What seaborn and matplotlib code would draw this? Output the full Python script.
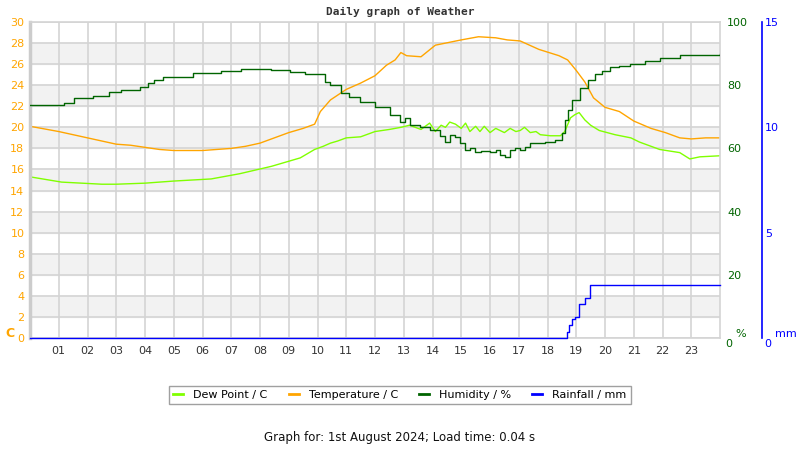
import matplotlib
matplotlib.use("Agg")
import matplotlib.pyplot as plt
import seaborn as sns

# hours of the day and readings taken off the graph
temp_hours = [0, 1, 2, 2.5, 3, 3.5, 4, 4.5, 5, 6, 7, 7.5, 8, 8.5, 9, 9.5, 9.9, 10.1, 10.45, 11,
              11.5, 12, 12.4, 12.7, 12.9, 13.1, 13.6, 14.1, 15, 15.6, 16.2, 16.6, 17.05, 17.7, 18.4, 18.7,
              19, 19.3, 19.6, 20, 20.5, 21, 21.6, 22.1, 22.6, 23, 23.5, 24]
temperature = [20.1, 19.6, 19.0, 18.7, 18.4, 18.3, 18.1, 17.9, 17.8, 17.8, 18.0, 18.2, 18.5, 19.0, 19.5,
               19.9, 20.3, 21.5, 22.6, 23.6, 24.2, 24.9, 25.9, 26.4, 27.1, 26.8, 26.7, 27.8, 28.3, 28.6,
               28.5, 28.3, 28.2, 27.4, 26.8, 26.4, 25.4, 24.3, 22.8, 21.9, 21.5, 20.6, 19.9, 19.5, 19.0,
               18.9, 19.0, 19.0]

dew_hours = [0, 1.1, 2.5, 3, 4, 5, 6.3, 7.3, 8.4, 9.4, 9.9, 10.2, 10.45, 10.7, 11, 11.5, 12, 12.5, 12.9,
             13.2, 13.6, 13.9, 14.1, 14.3, 14.45, 14.6, 14.8, 15, 15.15, 15.3, 15.5, 15.65, 15.8, 16, 16.2,
             16.35, 16.5, 16.7, 16.9, 17.05, 17.2, 17.4, 17.6, 17.75, 18.1, 18.45, 18.6, 18.8, 18.95, 19.1,
             19.3, 19.5, 19.8, 20.35, 20.9, 21.2, 21.9, 22.6, 22.95, 23.3, 24]
dew_point = [15.3, 14.8, 14.6, 14.6, 14.7, 14.9, 15.1, 15.6, 16.3, 17.1, 17.9, 18.2, 18.5, 18.7, 19.0,
             19.1, 19.6, 19.8, 20.0, 20.2, 19.8, 20.4, 19.6, 20.2, 20.0, 20.5, 20.3, 19.9, 20.4, 19.6,
             20.1, 19.6, 20.1, 19.5, 19.9, 19.7, 19.5, 19.9, 19.6, 19.7, 20.0, 19.5, 19.6, 19.3, 19.2,
             19.2, 19.6, 20.9, 21.2, 21.4, 20.7, 20.2, 19.7, 19.3, 19.0, 18.6, 17.9, 17.6, 17.0, 17.2, 17.3]

hum_hours = [0, 1.18, 1.53, 2.19, 2.74, 3.16, 3.82, 4.1, 4.31, 4.62, 5.66, 6.63, 7.33, 8.37, 9.06, 9.58,
             10.03, 10.25, 10.45, 10.8, 11.08, 11.49, 12.01, 12.53, 12.88, 13.05, 13.23, 13.58, 13.92,
             14.27, 14.44, 14.62, 14.79, 14.97, 15.14, 15.3, 15.49, 15.7, 16.0, 16.2, 16.35, 16.53, 16.7,
             16.88, 17.05, 17.22, 17.4, 17.57, 17.92, 18.26, 18.44, 18.51, 18.61, 18.72, 18.85, 19.13,
             19.4, 19.65, 19.9, 20.17, 20.5, 20.87, 21.4, 21.91, 22.6, 24]
humidity = [73.7, 74.4, 75.9, 76.6, 77.8, 78.5, 79.4, 80.7, 81.6, 82.6, 83.9, 84.5, 85.1, 84.8, 84.2,
            83.5, 83.5, 81.0, 80.0, 77.5, 76.3, 74.7, 73.0, 70.6, 68.4, 69.5, 67.5, 66.8, 65.8, 63.9,
            62.0, 64.2, 63.5, 61.7, 59.5, 60.2, 58.9, 59.3, 58.9, 59.5, 57.9, 57.3, 59.5, 60.1, 59.5,
            60.4, 61.7, 61.7, 62.0, 62.7, 62.7, 65.0, 69.0, 72.0, 75.3, 79.1, 81.5, 83.5, 84.5, 85.8,
            86.2, 86.7, 87.6, 88.6, 89.6, 89.9]

rain_hours = [0, 18.68, 18.75, 18.85, 18.95, 19.1, 19.3, 19.48, 24]
rainfall = [0, 0.3, 0.6, 0.9, 1.0, 1.6, 1.9, 2.5, 2.5]

hour_ticks = list(range(1, 24))
hour_labels = ["%02d" % h for h in hour_ticks]

orange = "#FFA500"
lime = "#80FF00"
dkgreen = "#006400"
blue = "#0000FF"
grid = "#d4d4d4"

fig = plt.figure(figsize=(8, 4.5), dpi=100)
ax = fig.add_axes([30 / 800, 1 - 338 / 450, 690 / 800, 316 / 450])

# striped background
for lo in range(2, 30, 4):
    ax.axhspan(lo, lo + 2, color="#f2f2f2", zorder=0)

sns.lineplot(x=dew_hours, y=dew_point, ax=ax, color=lime, lw=1.0, label="Dew Point / C")
sns.lineplot(x=temp_hours, y=temperature, ax=ax, color=orange, lw=1.0, label="Temperature / C")
ax.set_xlim(0, 24)
ax.set_ylim(0, 30)
ax.set_yticks(range(0, 31, 2))
ax.set_xticks(hour_ticks)
ax.set_xticklabels(hour_labels)
ax.grid(True, color=grid, lw=1.2, zorder=1)
ax.set_axisbelow(True)
ax.tick_params(axis="y", length=0, pad=4, labelsize=8, labelcolor=orange)
ax.tick_params(axis="x", length=0, pad=6, labelsize=8, labelcolor="#333333")
for s in ["top", "right", "bottom"]:
    ax.spines[s].set_color(grid)
    ax.spines[s].set_linewidth(1.2)
ax.spines["left"].set_color("#cccccc")
ax.spines["left"].set_linewidth(2.5)
ax.set_xlabel("")
ax.text(-0.035, 0.015, "C", transform=ax.transAxes, color=orange, fontsize=9,
        fontweight="bold", ha="left", va="center")

ax2 = ax.twinx()
sns.lineplot(x=hum_hours, y=humidity, ax=ax2, color=dkgreen, lw=1.0, drawstyle="steps-post",
             label="Humidity / %")
ax2.set_ylim(0, 100)
ax2.set_yticks(range(0, 101, 20))
ax2.set_yticklabels([""] + [str(v) for v in range(20, 101, 20)])
ax2.tick_params(axis="y", length=0, pad=5, labelsize=8, labelcolor=dkgreen)
ax2.set_ylabel("")
for s in ax2.spines.values():
    s.set_visible(False)
ax2.text(1.008, -0.02, "0", transform=ax2.transAxes, color=dkgreen, fontsize=8, ha="left", va="center")
ax2.text(1.022, 0.012, "%", transform=ax2.transAxes, color=dkgreen, fontsize=8, ha="left", va="center")

ax3 = ax.twinx()
sns.lineplot(x=rain_hours, y=rainfall, ax=ax3, color=blue, lw=1.0, drawstyle="steps-post",
             label="Rainfall / mm")
for line in ax3.get_lines():
    line.set_clip_on(False)
ax3.set_ylim(0, 15)
ax3.set_yticks([0, 5, 10, 15])
ax3.set_yticklabels(["", "5", "10", "15"])
ax3.spines["right"].set_position(("axes", 732 / 690))
ax3.spines["right"].set_color(blue)
ax3.spines["right"].set_linewidth(1.2)
for s in ["top", "left", "bottom"]:
    ax3.spines[s].set_visible(False)
ax3.tick_params(axis="y", length=0, pad=2, labelsize=8, labelcolor=blue)
ax3.set_ylabel("")
ax3.text(1.064, -0.02, "0", transform=ax3.transAxes, color=blue, fontsize=8, ha="left", va="center")
ax3.text(1.08, 0.012, "mm", transform=ax3.transAxes, color=blue, fontsize=8, ha="left", va="center")

handles, labels = [], []
for a in [ax, ax2, ax3]:
    h, l = a.get_legend_handles_labels()
    handles += h
    labels += l
    if a.get_legend() is not None:
        a.get_legend().remove()
leg = fig.legend(handles, labels, loc="center", bbox_to_anchor=(0.5, 1 - 395 / 450), ncol=4,
                 fontsize=8, frameon=True, fancybox=False, edgecolor="#888888",
                 handlelength=0.9, handletextpad=0.9, columnspacing=1.9, borderpad=0.4)
leg.get_frame().set_linewidth(1.0)
for line in leg.get_lines():
    line.set_linewidth(2)

fig.text(0.5, 1 - 12 / 450, "Daily graph of Weather", ha="center", va="center",
         family="DejaVu Sans Mono", fontweight="bold", fontsize=8, color="#333333")
fig.text(0.5, 1 - 437 / 450, "Graph for: 1st August 2024; Load time: 0.04 s", ha="center",
         va="center", fontsize=8.5, color="#111111")

fig.savefig("out.png", dpi=100)
